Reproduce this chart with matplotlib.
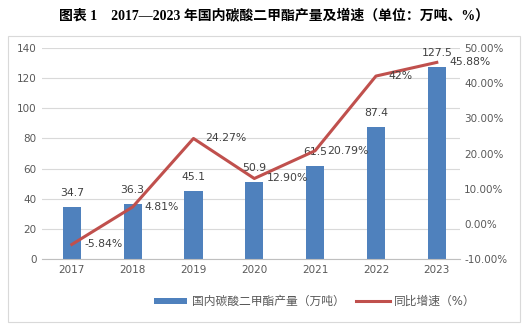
import numpy as np
import matplotlib.pyplot as plt
from matplotlib.patches import Rectangle

plt.rcParams['font.family'] = ['DejaVu Sans', 'Noto Sans CJK SC']

years = ['2017', '2018', '2019', '2020', '2021', '2022', '2023']
output = [34.7, 36.3, 45.1, 50.9, 61.5, 87.4, 127.5]
growth = [-5.84, 4.81, 24.27, 12.90, 20.79, 42.0, 45.88]
growth_labels = ['-5.84%', '4.81%', '24.27%', '12.90%', '20.79%', '42%', '45.88%']

bar_color = '#4F81BD'
line_color = '#C0504D'
txt = '#404040'

fig = plt.figure(figsize=(5.25, 3.28), dpi=100)
fig.patches.append(Rectangle((8 / 525, 1 - 322 / 328), 512 / 525, 286 / 328,
                             transform=fig.transFigure, fill=False,
                             edgecolor='#D9D9D9', linewidth=0.8))

ax1 = fig.add_axes([0.08, 0.21, 0.796, 0.644])
x = np.arange(len(years))
ax1.bar(x, output, width=0.3, color=bar_color, zorder=2, label='国内碳酸二甲酯产量（万吨）')
ax1.set_ylim(0, 140)
ax1.set_yticks(range(0, 141, 20))
ax1.set_xlim(-0.49, 6.38)
ax1.set_xticks(x)
ax1.set_xticklabels(years)
ax1.grid(axis='y', color='#D9D9D9', linewidth=0.8, zorder=0)
for s in ['top', 'left', 'right']:
    ax1.spines[s].set_visible(False)
ax1.spines['bottom'].set_color('#BFBFBF')
ax1.tick_params(length=0, labelsize=7.5, colors='#595959', pad=4)
for xi, v in zip(x, output):
    ax1.text(xi, v + 6, f'{v}', ha='center', va='bottom', fontsize=7.8, color=txt, zorder=5)

ax2 = ax1.twinx()
ax2.plot(x, growth, color=line_color, linewidth=2.2, zorder=3, label='同比增速（%）')
ax2.set_ylim(-10, 50)
ax2.set_yticks(range(-10, 51, 10))
ax2.set_yticklabels([f'{v:.2f}%' for v in range(-10, 51, 10)])
for s in ['top', 'left', 'right', 'bottom']:
    ax2.spines[s].set_visible(False)
ax2.tick_params(length=0, labelsize=7.5, colors='#595959', pad=3)
for xi, v, lab in zip(x, growth, growth_labels):
    ax2.text(xi + 0.2, v, lab, ha='left', va='center', fontsize=7.8, color=txt, zorder=5)

fig.text(0.522, 0.952, '图表 1    2017—2023 年国内碳酸二甲酯产量及增速（单位：万吨、%）',
         ha='center', va='center', fontsize=10, fontweight='bold', color='black',
         family=['Liberation Serif', 'Noto Sans CJK SC'])

h1, l1 = ax1.get_legend_handles_labels()
h2, l2 = ax2.get_legend_handles_labels()
leg = fig.legend(h1 + h2, l1 + l2, loc='center', bbox_to_anchor=(0.6, 0.08), ncol=2,
                 frameon=False, fontsize=8.5, handlelength=2.8, handleheight=0.5,
                 columnspacing=1.0, handletextpad=0.4)
for t in leg.get_texts():
    t.set_color('#595959')

fig.savefig('out.png', dpi=100)
